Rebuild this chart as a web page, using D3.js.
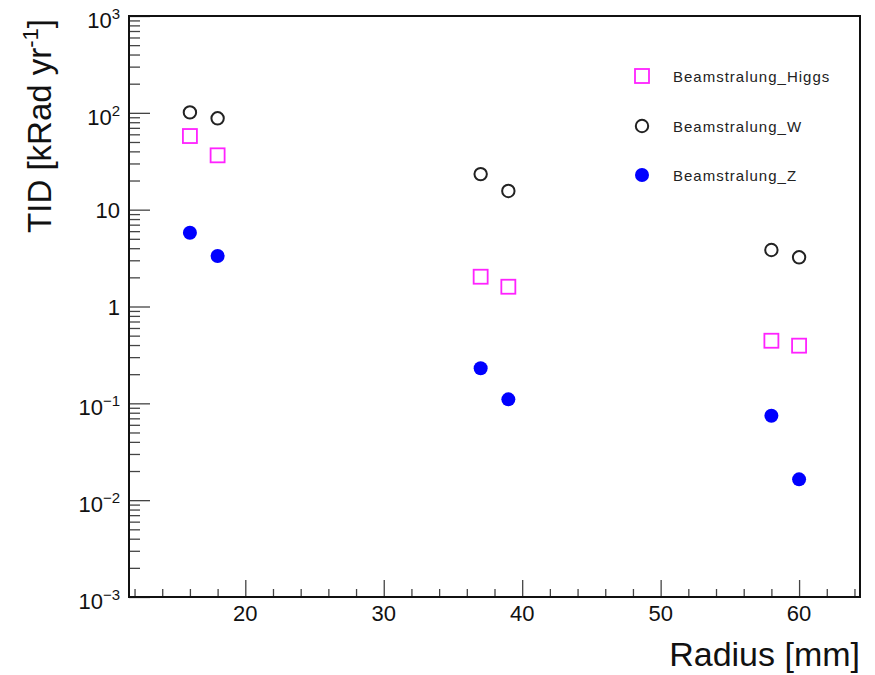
<!DOCTYPE html>
<html>
<head>
<meta charset="utf-8">
<script src="https://cdn.jsdelivr.net/npm/d3@7"></script>
<style>
  html, body { margin: 0; padding: 0; background: #fff; }
  svg { display: block; font-family: "Liberation Sans", Arial, sans-serif; }
</style>
</head>
<body>
<svg id="chart" width="875" height="675"></svg>
<script>

// DATA
// --------------------------------------------------------------------------

var radius = [16, 18, 37, 39, 58, 60];

var higgs = [57.6, 36.4, 2.03, 1.60, 0.443, 0.394];
var wBoson = [101, 87.8, 23.3, 15.6, 3.83, 3.22];
var zBoson = [5.78, 3.32, 0.230, 0.110, 0.0745, 0.0164];

var seriesNames = ['Beamstralung_Higgs', 'Beamstralung_W', 'Beamstralung_Z'];

var xTickValues = [20, 30, 40, 50, 60];
var yExponents = [-3, -2, -1, 0, 1, 2, 3];


// SCALES
// --------------------------------------------------------------------------

var frame = { left: 129, right: 860, top: 16, bottom: 597 };

var x = d3.scaleLinear().domain([11.6, 64.4])
  .range([frame.left, frame.right]);

var y = d3.scaleLog().domain([1e-3, 1e3])
  .range([frame.bottom, frame.top]);

var svg = d3.select('#chart');


// AXES
// --------------------------------------------------------------------------

// Minor ticks every 2 mm, major every 10 mm, all pointing into the frame.
var xMinor = d3.range(12, 65, 2).filter(function(v) {
  return v % 10 !== 0;
});

svg.append('g')
  .attr('transform', 'translate(0,' + frame.bottom + ')')
  .call(d3.axisTop(x).tickValues(xMinor).tickSize(8)
    .tickSizeOuter(0).tickFormat(''));

svg.append('g')
  .attr('transform', 'translate(0,' + frame.bottom + ')')
  .call(d3.axisTop(x).tickValues(xTickValues).tickSize(17)
    .tickSizeOuter(0).tickFormat(''));

// Log minor ticks at 2..9 of every decade.
var yMinor = [];
yExponents.slice(0, -1).forEach(function(e) {
  d3.range(2, 10).forEach(function(m) { yMinor.push(m * Math.pow(10, e)); });
});

var yDecades = yExponents.map(function(e) { return Math.pow(10, e); });

svg.append('g')
  .attr('transform', 'translate(' + frame.left + ',0)')
  .call(d3.axisRight(y).tickValues(yMinor).tickSize(11)
    .tickSizeOuter(0).tickFormat(''));

svg.append('g')
  .attr('transform', 'translate(' + frame.left + ',0)')
  .call(d3.axisRight(y).tickValues(yDecades).tickSize(21)
    .tickSizeOuter(0).tickFormat(''));

svg.selectAll('.domain').remove();
svg.selectAll('.tick line')
  .attr('stroke', '#444').attr('stroke-width', 1.3);

// Frame.
svg.append('rect')
  .attr('x', frame.left).attr('y', frame.top)
  .attr('width', frame.right - frame.left)
  .attr('height', frame.bottom - frame.top)
  .attr('fill', 'none').attr('stroke', '#111').attr('stroke-width', 2);

// X tick labels.
svg.selectAll('.xlab').data(xTickValues).enter().append('text')
  .attr('class', 'xlab')
  .attr('x', function(d) { return x(d); })
  .attr('y', 621)
  .attr('text-anchor', 'middle')
  .attr('font-size', 22)
  .attr('fill', '#111')
  .text(function(d) { return d; });

// Y tick labels, 10^n written with a superscript.
yExponents.forEach(function(e) {
  var yy = y(Math.pow(10, e));
  var t = svg.append('text')
    .attr('x', 120)
    .attr('text-anchor', 'end')
    .attr('font-size', 22)
    .attr('fill', '#111');
  if (e === 0 || e === 1) {
    t.attr('y', yy + 8).text(e === 0 ? '1' : '10');
  } else {
    t.attr('y', yy + 12);
    t.append('tspan').text('10');
    t.append('tspan')
      .attr('font-size', 15)
      .attr('dy', -9)
      .text(e < 0 ? '\u2212' + (-e) : e);
  }
});

// Axis titles.
svg.append('text')
  .attr('x', 860).attr('y', 666)
  .attr('text-anchor', 'end')
  .attr('font-size', 34)
  .attr('fill', '#111')
  .text('Radius [mm]');

var yTitle = svg.append('text')
  .attr('transform', 'translate(51,19) rotate(-90)')
  .attr('text-anchor', 'end')
  .attr('font-size', 33)
  .attr('fill', '#111');
yTitle.append('tspan').text('TID [kRad yr');
yTitle.append('tspan').attr('font-size', 22).attr('dy', -13).text('-1');
yTitle.append('tspan').attr('dy', 13).text(']');


// MARKERS
// --------------------------------------------------------------------------

/**
 * Draw one marker of the given kind centred on (cx, cy).
 */
function marker(g, kind, cx, cy) {
  if (kind === 0) {
    g.append('rect')
      .attr('x', cx - 7).attr('y', cy - 7)
      .attr('width', 14).attr('height', 14)
      .attr('fill', 'none').attr('stroke', '#ff22ff').attr('stroke-width', 1.8);
  } else if (kind === 1) {
    g.append('circle')
      .attr('cx', cx).attr('cy', cy).attr('r', 6.2)
      .attr('fill', 'none').attr('stroke', '#222').attr('stroke-width', 2);
  } else {
    g.append('circle')
      .attr('cx', cx).attr('cy', cy).attr('r', 7)
      .attr('fill', '#0000ff');
  }
}

var points = svg.append('g');
[higgs, wBoson, zBoson].forEach(function(series, k) {
  series.forEach(function(v, i) {
    marker(points, k, x(radius[i]), y(v));
  });
});


// LEGEND
// --------------------------------------------------------------------------

var legendRows = [76, 126, 175];

seriesNames.forEach(function(name, k) {
  marker(svg, k, 642, legendRows[k]);
  svg.append('text')
    .attr('x', 673).attr('y', legendRows[k] + 5.5)
    .attr('font-size', 15)
    .attr('letter-spacing', 1)
    .attr('fill', '#222')
    .text(name);
});

</script>
</body>
</html>
